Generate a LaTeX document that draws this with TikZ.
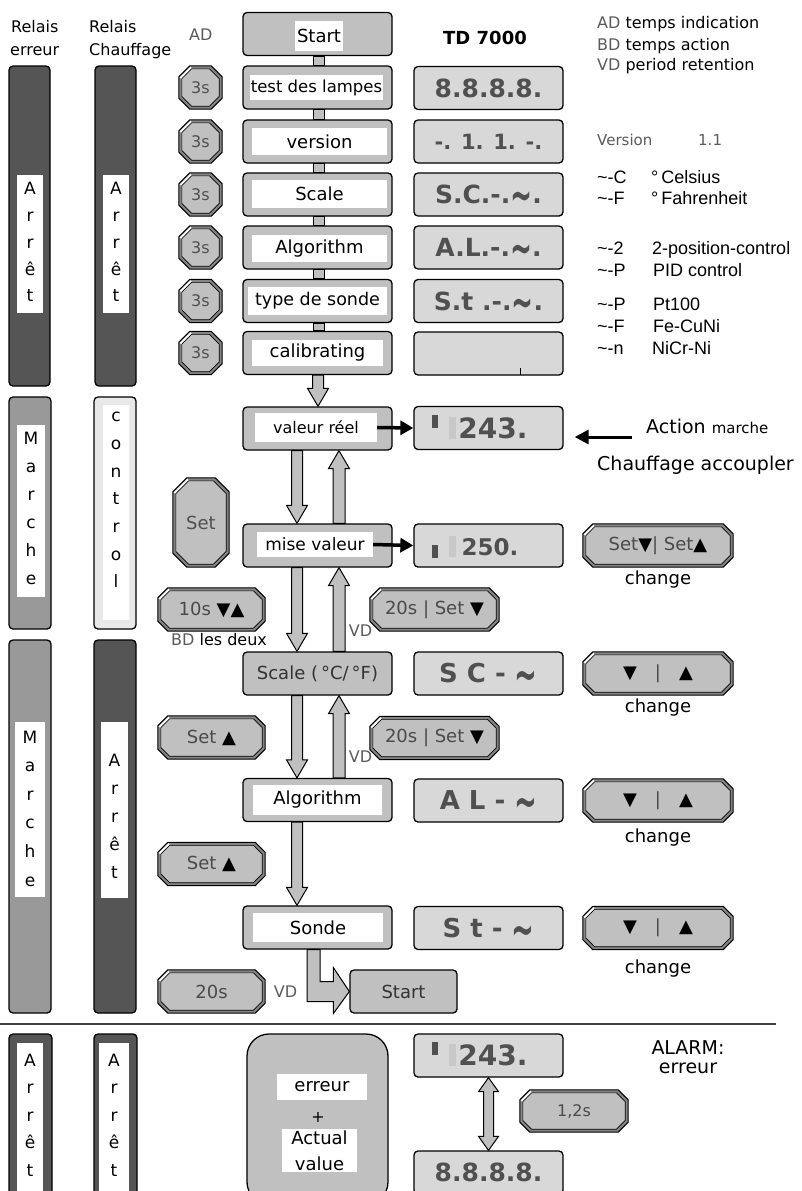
\documentclass[tikz,border=0pt]{standalone}
\usepackage{fontspec}
\setmainfont{DejaVu Sans}
\newfontfamily\libsans{Liberation Sans}
\usetikzlibrary{arrows.meta,calc}
\definecolor{boxgray}{HTML}{C0C0C0}
\definecolor{dispgray}{HTML}{D8D8D8}
\definecolor{segdark}{HTML}{505050}
\definecolor{segfaint}{HTML}{C8C8C8}
\definecolor{bardark}{HTML}{555555}
\definecolor{barmid}{HTML}{999999}
\definecolor{barlight}{HTML}{E8E8E8}
\definecolor{btnband}{HTML}{858585}
\definecolor{btntext}{HTML}{4A4A4A}
\definecolor{labgray}{HTML}{5A5A5A}
\definecolor{darktext}{HTML}{333333}
\newcommand\fsz[2]{\fontsize{#1}{#2}\selectfont}
\newcommand\segtilde{\raisebox{-0.33em}[0pt][0pt]{\scalebox{1.05}[1.9]{\textasciitilde}}}
\pgfdeclarelayer{back}
\pgfsetlayers{back,main}
\newcommand\octpath[3]{%
 ([xshift={(#2+#3)*1pt},yshift={-(#3)*1pt}]#1.north west) --
 ([xshift={-(#2+#3)*1pt},yshift={-(#3)*1pt}]#1.north east) --
 ([xshift={-(#3)*1pt},yshift={-(#2+#3)*1pt}]#1.north east) --
 ([xshift={-(#3)*1pt},yshift={(#2+#3)*1pt}]#1.south east) --
 ([xshift={-(#2+#3)*1pt},yshift={(#3)*1pt}]#1.south east) --
 ([xshift={(#2+#3)*1pt},yshift={(#3)*1pt}]#1.south west) --
 ([xshift={(#3)*1pt},yshift={(#2+#3)*1pt}]#1.south west) --
 ([xshift={(#3)*1pt},yshift={-(#2+#3)*1pt}]#1.north west) -- cycle}
\newcommand\btnframe[2]{%
 \begin{pgfonlayer}{back}
 \filldraw[draw=black, line width=1pt, fill=btnband] \octpath{#1}{#2}{0};
 \filldraw[draw=black, line width=0.6pt, fill=boxgray] \octpath{#1}{#2-1.2}{3};
 \draw[line width=1.8pt, white] ([xshift={(#2+1.2)*1pt},yshift=-1.5pt]#1.north west) -- ([xshift=1.5pt,yshift={-(#2+1.2)*1pt}]#1.north west);
 \end{pgfonlayer}}
\newcommand\blkdown[3]{%
 \draw[blk] let \p1=(#2.south), \p2=(#3.north) in
 ({#1pt-5.5pt},\y1) -- ({#1pt+5.5pt},\y1) -- ({#1pt+5.5pt},{\y2+18pt}) -- ({#1pt+10.5pt},{\y2+18pt}) -- ({#1pt},\y2) -- ({#1pt-10.5pt},{\y2+18pt}) -- ({#1pt-5.5pt},{\y2+18pt}) -- cycle;}
\newcommand\blkup[3]{%
 \draw[blk] let \p1=(#2.north), \p2=(#3.south) in
 ({#1pt-6pt},\y1) -- ({#1pt+6pt},\y1) -- ({#1pt+6pt},{\y2-18pt}) -- ({#1pt+10.5pt},{\y2-18pt}) -- ({#1pt},\y2) -- ({#1pt-10.5pt},{\y2-18pt}) -- ({#1pt-6pt},{\y2-18pt}) -- cycle;}
\begin{document}
\begin{tikzpicture}[x=1pt,y=-1pt,
 txt/.style={inner sep=0pt, anchor=west, text height=11.5pt, text depth=0pt},
 proc/.style={draw=black, line width=1.3pt, fill=boxgray, rounded corners=4pt, minimum width=149pt, minimum height=43pt, inner sep=0pt},
 wl/.style={fill=white, inner sep=0pt, font=\fsz{18}{22}},
 disp/.style={draw=black, line width=1.3pt, fill=dispgray, rounded corners=4pt, minimum width=149pt, minimum height=43pt, inner sep=0pt, text=segdark, font=\bfseries\fsz{25}{28}},
 segt/.style={inner sep=0pt, text=segdark},
 btn/.style={inner sep=0pt, text=btntext, font=\fsz{18}{21}},
 bar/.style={draw=black, line width=1.3pt, rounded corners=4pt, inner sep=0pt},
 inset/.style={fill=white, inner sep=0pt},
 vtxt/.style={inner sep=0pt, align=center},
 blk/.style={draw=black, line width=1pt, fill=boxgray, line join=miter},
 blkarr/.style={line width=3.5pt, -{Triangle[length=13pt,width=14pt]}},
 rt/.style={inner sep=0pt, anchor=west, font=\libsans\fsz{18}{21}, text height=13pt, text depth=0pt},
 lbl/.style={inner sep=0pt, font=\fsz{18}{21}},
 vd/.style={inner sep=0pt, font=\fsz{16}{19}, text=labgray},
]
\useasboundingbox (0,0) rectangle (801,1191);
\begin{pgfonlayer}{back}\fill[white] (0,0) rectangle (801,1191);\end{pgfonlayer}

% ---------- headers ----------
\node[txt, font=\fsz{16}{19}] (hA1) at (11,27) {Relais};
\node[txt, font=\fsz{16}{19}] (hA2) at (10,50) {erreur};
\node[txt, font=\fsz{16}{19}] (hB1) at (89,27) {Relais};
\node[txt, font=\fsz{16}{19}] (hB2) at (89,50) {Chauffage};
\node[txt, font=\fsz{16}{19}, text=labgray] (hC) at (189,35) {AD};
\node[inner sep=0pt, font=\bfseries\fsz{18}{21}] (td) at (485,38) {TD 7000};
\node[txt, font=\fsz{16}{19}] (lg1) at (597,23) {\textcolor{labgray}{AD} temps indication};
\node[txt, font=\fsz{16}{19}] (lg2) at (597,45) {\textcolor{labgray}{BD} temps action};
\node[txt, font=\fsz{16}{19}] (lg3) at (597,65) {\textcolor{labgray}{VD} period retention};

% ---------- relay bars ----------
\node[bar, fill=bardark, minimum width=41pt, minimum height=320pt] (bar1) at (29.5,226) {};
\node[inset, minimum width=26pt, minimum height=138pt] (in1) at (30,244) {};
\node[vtxt, font=\fsz{17}{26.8}] (t1) at (30,242) {A\\r\\r\\ê\\t};
\node[bar, fill=bardark, minimum width=41pt, minimum height=320pt] (bar2) at (115.5,226) {};
\node[inset, minimum width=26pt, minimum height=138pt] (in2) at (116,244) {};
\node[vtxt, font=\fsz{17}{26.8}] (t2) at (116,242) {A\\r\\r\\ê\\t};

\node[bar, fill=barmid, minimum width=42pt, minimum height=232pt] (bar3) at (30,513) {};
\node[inset, minimum width=28pt, minimum height=172pt] (in3) at (31,511) {};
\node[vtxt, font=\fsz{17}{28}] (t3) at (31,508) {M\\a\\r\\c\\h\\e};
\node[bar, fill=barlight, minimum width=42pt, minimum height=232pt] (bar4) at (115,513) {};
\node[inset, minimum width=26pt, minimum height=215pt] (in4) at (116,512.5) {};
\node[vtxt, font=\fsz{17}{27.7}] (t4) at (116,500) {c\\o\\n\\t\\r\\o\\l};

\node[bar, fill=barmid, minimum width=42pt, minimum height=373pt] (bar5) at (30,826.5) {};
\node[inset, minimum width=30pt, minimum height=175pt] (in5) at (30,809.5) {};
\node[vtxt, font=\fsz{17}{28.6}] (t5) at (30,808.5) {M\\a\\r\\c\\h\\e};
\node[bar, fill=bardark, minimum width=42pt, minimum height=373pt] (bar6) at (115,826.5) {};
\node[inset, minimum width=27pt, minimum height=176pt] (in6) at (114.5,810) {};
\node[vtxt, font=\fsz{17}{28}] (t6) at (114.5,816) {A\\r\\r\\ê\\t};

\node[bar, fill=bardark, minimum width=43pt, minimum height=176pt] (bar7) at (30.5,1122) {};
\node[inset, minimum width=26pt, minimum height=160pt] (in7) at (30,1123) {};
\node[vtxt, font=\fsz{17}{27.5}] (t7) at (30,1115) {A\\r\\r\\ê\\t};
\node[bar, fill=bardark, minimum width=43pt, minimum height=176pt] (bar8) at (115.5,1122) {};
\node[inset, minimum width=30pt, minimum height=160pt] (in8) at (114,1123) {};
\node[vtxt, font=\fsz{17}{27.5}] (t8) at (114,1115) {A\\r\\r\\ê\\t};

% ---------- AD buttons ----------
\foreach \i/\yy in {1/87.5,2/141.5,3/194.5,4/247.5,5/301,6/353}{
 \node[btn, minimum width=43pt, minimum height=43pt, font=\fsz{16}{19}, text=segdark] (ad\i) at (200.5,\yy) {3s};
 \btnframe{ad\i}{11}
}

% ---------- process boxes ----------
\node[proc] (st) at (317.5,34) {};
\node[wl, minimum width=48pt, minimum height=30pt] (stl) at (319,36) {Start};
\node[proc] (tl) at (317.5,87.5) {};
\node[wl, minimum width=133pt, minimum height=25pt, font=\fsz{16.5}{20}] (tll) at (316.5,87.5) {test des lampes};
\node[proc] (ver) at (317.5,141.5) {};
\node[wl, minimum width=135pt, minimum height=27pt] (verl) at (319.5,141.5) {version};
\node[proc] (sca) at (317.5,194.5) {};
\node[wl, minimum width=135pt, minimum height=28pt] (scal) at (319.5,194) {Scale};
\node[proc] (alg) at (317.5,247.5) {};
\node[wl, minimum width=135pt, minimum height=27pt] (algl) at (319.5,248.5) {Algorithm};
\node[proc] (tds) at (317.5,301) {};
\node[wl, minimum width=139pt, minimum height=28pt, font=\fsz{17.5}{21}] (tdsl) at (317.5,301) {type de sonde};
\node[proc] (cal) at (317.5,353) {};
\node[wl, minimum width=131pt, minimum height=26pt] (call) at (317.5,353) {calibrating};
\node[proc] (val) at (317.5,428.5) {};
\node[wl, minimum width=122pt, minimum height=29pt, font=\fsz{16}{20}] (vall) at (316,427.5) {valeur réel};
\node[proc] (mis) at (317.5,545.5) {};
\node[wl, minimum width=116pt, minimum height=25pt, font=\fsz{17}{20}] (misl) at (315,544.5) {mise valeur};
\node[proc, text=darktext, font=\fsz{18}{22}] (sc2) at (317.5,673.5) {Scale (\,°C/\,°F)};
\node[proc] (al2) at (317.5,800) {};
\node[wl, minimum width=129pt, minimum height=30pt] (al2l) at (317.5,800) {Algorithm};
\node[proc] (son) at (317.5,927.5) {};
\node[wl, minimum width=130pt, minimum height=29pt] (sonl) at (318,927.5) {Sonde};
\node[proc, minimum width=107pt, text=darktext, font=\fsz{18}{22}] (st2) at (403.5,991.5) {Start};

% stubs between the start-up boxes
\foreach \a/\b in {st/tl,tl/ver,ver/sca,sca/alg,alg/tds,tds/cal}
 \draw[blk] (\a.south -| 313,0) rectangle (\b.north -| 324,0);

% block arrows
\blkdown{318}{cal}{val}
\blkdown{297}{val}{mis}
\blkup{339}{mis}{val}
\blkdown{297}{mis}{sc2}
\blkup{339}{sc2}{mis}
\blkdown{297}{sc2}{al2}
\blkup{339}{al2}{sc2}
\blkdown{297}{al2}{son}
\draw[blk] let \p1=(son.south), \p2=(st2.west) in
 (307pt,\y1) -- (320pt,\y1) -- (320pt,{\y2+10pt}) -- ({\x2-16pt},{\y2+10pt}) -- ({\x2-16pt},{\y2+24pt}) -- (\x2,\y2) -- ({\x2-16pt},{\y2-22pt}) -- ({\x2-16pt},{\y2-10pt}) -- (307pt,{\y2-10pt}) -- cycle;

% ---------- displays ----------
\node[disp] (d1) at (488.5,88) {8.8.8.8.};
\node[disp, font=\bfseries\fsz{21}{25}] (d2) at (488.5,141.5) {-. 1. 1. -.};
\node[disp] (d3) at (488.5,194.5) {S.C.-.\segtilde.};
\node[disp] (d4) at (488.5,247.5) {A.L.-.\segtilde.};
\node[disp] (d5) at (488.5,301) {S.t .-.\segtilde.};
\node[disp] (d6) at (488.5,353.5) {};
\draw[line width=1pt] (520,368) -- (520,375);
\node[disp] (d7) at (488.5,428) {};
\fill[segdark] (432,415) rectangle (438,428);
\fill[segfaint] (449,417) rectangle (456,439);
\node[segt, font=\bfseries\fsz{28}{32}] (d7t) at (493,428) {243.};
\node[disp] (d8) at (488.5,545.5) {};
\fill[segdark] (432,545) rectangle (438,558);
\fill[segfaint] (449,536) rectangle (456,557);
\node[segt, font=\bfseries\fsz{23}{27}] (d8t) at (490,547) {250.};
\node[disp, font=\bfseries\fsz{26}{30}] (d9) at (488.5,673.5) {S C - \segtilde};
\node[disp, font=\bfseries\fsz{26}{30}] (d10) at (488.5,800.5) {A L - \segtilde};
\node[disp, font=\bfseries\fsz{26}{30}] (d11) at (488.5,928) {S t - \segtilde};
\node[disp] (d12) at (488.5,1055.5) {};
\fill[segdark] (432,1042) rectangle (438,1055);
\fill[segfaint] (449,1044) rectangle (456,1066);
\node[segt, font=\bfseries\fsz{28}{32}] (d12t) at (493,1055.5) {243.};
\node[disp] (d13) at (488.5,1172.5) {8.8.8.8.};

% black arrows to displays
\draw[blkarr] (vall.east) -- (d7.west);
\draw[blkarr] (misl.east) -- (d8.west);
\coordinate (actsrc) at (632,437);
\draw[line width=3pt, -{Triangle[length=14pt,width=14pt]}, shorten >=11pt] (actsrc) -- (actsrc -| d7.east);
\node[txt, font=\fsz{19}{22}, text height=14pt] (act1) at (646,426) {Action {\fsz{15}{18}marche}};
\node[txt, font=\fsz{19}{22}, text height=14pt] (act2) at (597,463) {Chauffage accoupler};

% ---------- right-hand notes ----------
\node[txt, font=\fsz{15}{18}, text=labgray] (ver1) at (597,140) {Version};
\node[txt, font=\fsz{15}{18}, text=labgray] (ver2) at (698,140) {1.1};
\node[rt] (c1a) at (597,177) {\textasciitilde-C};
\node[rt] (c1b) at (651,177) {°\,Celsius};
\node[rt] (c2a) at (597,198) {\textasciitilde-F};
\node[rt] (c2b) at (651,198) {°\,Fahrenheit};
\node[rt] (c3a) at (597,248) {\textasciitilde-2};
\node[rt] (c3b) at (652,248) {2-position-control};
\node[rt] (c4a) at (597,270) {\textasciitilde-P};
\node[rt] (c4b) at (653,270) {PID control};
\node[rt] (c5a) at (597,304) {\textasciitilde-P};
\node[rt] (c5b) at (653,304) {Pt100};
\node[rt] (c6a) at (597,326) {\textasciitilde-F};
\node[rt] (c6b) at (653,326) {Fe-CuNi};
\node[rt] (c7a) at (597,348) {\textasciitilde-n};
\node[rt] (c7b) at (652,348) {NiCr-Ni};

% ---------- operating buttons ----------
\node[btn, minimum width=56pt, minimum height=89pt, text=segdark] (setb) at (201,522.5) {Set};
\btnframe{setb}{14}
\node[btn, minimum width=107pt, minimum height=43pt] (b10) at (211.5,609.5) {10s \textcolor{black}{▼▲}};
\btnframe{b10}{10}
\node[txt, font=\fsz{16}{19}] (bdl) at (171,640) {\textcolor{labgray}{BD} les deux};
\node[btn, minimum width=107pt, minimum height=43pt] (bs1) at (211.5,737.5) {Set \textcolor{black}{▲}};
\btnframe{bs1}{10}
\node[btn, minimum width=107pt, minimum height=43pt] (bs2) at (211.5,864) {Set \textcolor{black}{▲}};
\btnframe{bs2}{10}
\node[btn, minimum width=107pt, minimum height=43pt] (b20) at (211.5,991.5) {20s};
\btnframe{b20}{10}
\node[vd] (vd3) at (285.5,992) {VD};
\node[btn, minimum width=129pt, minimum height=43pt] (m1) at (434.5,609.5) {20s | Set \textcolor{black}{▼}};
\btnframe{m1}{10}
\node[vd] (vd1) at (360.5,631) {VD};
\node[btn, minimum width=129pt, minimum height=43pt] (m2) at (434.5,738) {20s | Set \textcolor{black}{▼}};
\btnframe{m2}{10}
\node[vd] (vd2) at (360.5,757) {VD};

\node[btn, minimum width=150pt, minimum height=43pt] (r1) at (658,545.5) {Set\textcolor{black}{▼}| Set\textcolor{black}{▲}};
\btnframe{r1}{10}
\node[lbl] (ch1) at (658,580) {change};
\node[btn, minimum width=150pt, minimum height=43pt] (r2) at (658,673.5) {\textcolor{black}{▼}\quad|\quad\textcolor{black}{▲}};
\btnframe{r2}{10}
\node[lbl] (ch2) at (658,708) {change};
\node[btn, minimum width=150pt, minimum height=43pt] (r3) at (658,800.5) {\textcolor{black}{▼}\quad|\quad\textcolor{black}{▲}};
\btnframe{r3}{10}
\node[lbl] (ch3) at (658,838) {change};
\node[btn, minimum width=150pt, minimum height=43pt] (r4) at (658,928) {\textcolor{black}{▼}\quad|\quad\textcolor{black}{▲}};
\btnframe{r4}{10}
\node[lbl] (ch4) at (658,969) {change};

% ---------- separator ----------
\draw[line width=1.3pt, draw=black!75] (0,1024) -- (776,1024);

% ---------- alarm section ----------
\node[draw=black, line width=1.3pt, fill=boxgray, rounded corners=22pt, minimum width=141pt, minimum height=170pt, inner sep=0pt] (alarm) at (317.5,1119) {};
\node[wl, minimum width=90pt, minimum height=26pt] (errl) at (322,1087) {erreur};
\node[inner sep=0pt, font=\fsz{16}{19}] (plus) at (318,1117) {+};
\node[wl, minimum width=75pt, minimum height=43pt, align=center, font=\fsz{18}{26}] (actl) at (319.5,1150.5) {Actual\\value};
\draw[blk] let \p1=(d12.south), \p2=(d13.north) in
 (\x1,\y1) -- ({\x1+10pt},{\y1-14pt}) -- ({\x1+5pt},{\y1-14pt}) -- ({\x1+5pt},{\y2+14pt}) -- ({\x1+10pt},{\y2+14pt}) -- (\x1,\y2) -- ({\x1-10pt},{\y2+14pt}) -- ({\x1-5pt},{\y2+14pt}) -- ({\x1-5pt},{\y1-14pt}) -- ({\x1-10pt},{\y1-14pt}) -- cycle;
\node[btn, minimum width=108pt, minimum height=42pt, font=\fsz{16}{19}] (b12) at (574,1111) {1,2s};
\btnframe{b12}{10}
\node[inner sep=0pt, font=\fsz{19}{22}] (alA) at (688,1048) {ALARM:};
\node[inner sep=0pt, font=\fsz{19}{22}] (alB) at (688,1068) {erreur};
\end{tikzpicture}
\end{document}
